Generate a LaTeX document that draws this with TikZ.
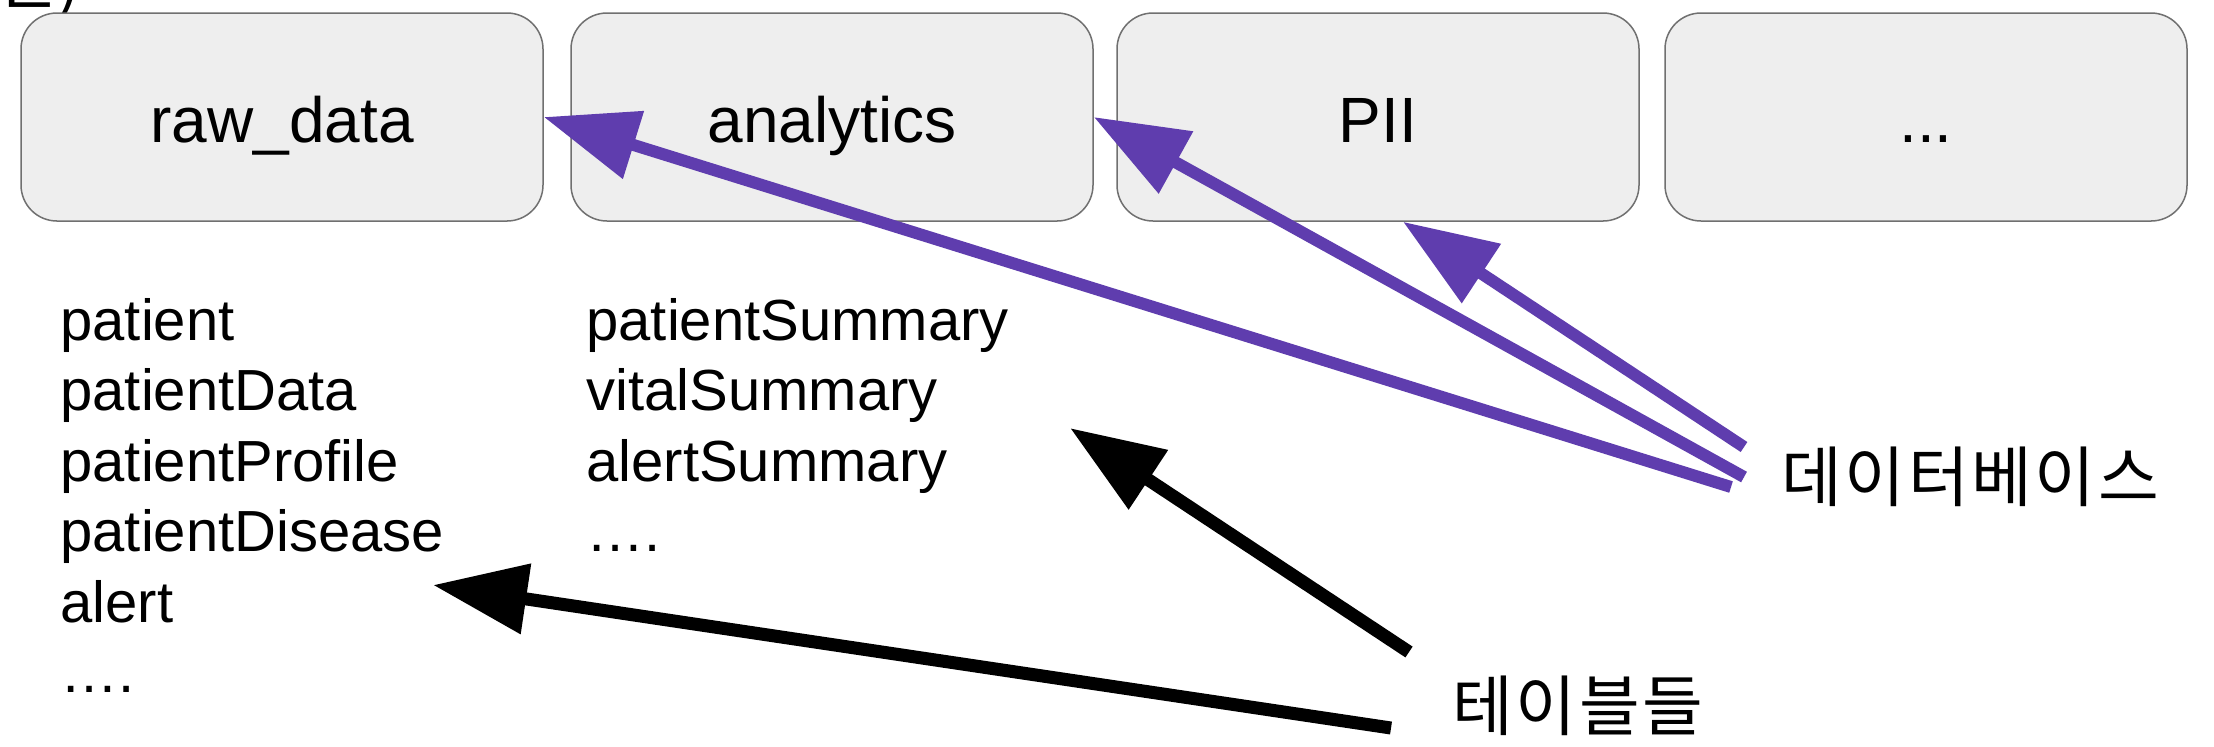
\documentclass[tikz,border=0pt]{standalone}
\usepackage{fontspec}
\setmainfont{Liberation Sans}
\newfontfamily\kr{Noto Sans CJK KR}
\newfontfamily\krsp[LetterSpace=4]{Noto Sans CJK KR}
\usetikzlibrary{arrows.meta,calc}
\definecolor{boxfill}{HTML}{EEEEEE}
\definecolor{boxline}{HTML}{707070}
\definecolor{pur}{HTML}{5F3DAE}
\newcommand{\fourdots}{….}
\begin{document}
\begin{tikzpicture}[x=0.5pt,y=-0.5pt,
  dbbox/.style={draw=boxline, line width=0.75pt, fill=boxfill, rounded corners=18pt,
    minimum width=261pt, minimum height=104pt, inner sep=0pt},
  boxtext/.style={font=\fontsize{32}{38}\selectfont, anchor=base, inner sep=0pt},
  listtext/.style={font=\fontsize{29}{35}\selectfont, anchor=base west, inner sep=0pt},
  purarrow/.style={draw=pur, fill=pur, line width=6pt, -{Triangle[length=47pt,width=34pt]}},
  blkarrow/.style={draw=black, fill=black, line width=6.5pt, -{Triangle[length=47pt,width=34pt]}},
  krlabel/.style={font=\krsp\fontsize{33}{40}\selectfont, anchor=west, inner sep=0pt}]

\useasboundingbox (0,0) rectangle (2214,746);
\fill[white] (0,0) rectangle (2214,746);

% cut-off heading at the top left
\node[font=\kr\fontsize{34}{40}\selectfont, anchor=base west, inner sep=0pt] (cut) at (-4,3) {단)};

% database boxes
\node[dbbox] (rd)   at (282,117)  {};
\node[dbbox] (an)   at (832,117)  {};
\node[dbbox] (pii)  at (1378,117) {};
\node[dbbox] (more) at (1926,117) {};
\node[boxtext] (rdt)   at (282,142)  {raw\_data};
\node[boxtext] (ant)   at (832,142)  {analytics};
\node[boxtext] (piit)  at (1378,142) {PII};
\node[boxtext] (moret) at (1926,142) {...};

% table lists
\foreach \t [count=\i] in {patient,patientData,patientProfile,patientDisease,alert,\fourdots}
  \node[listtext] (L\i) at (60,{340+70.5*(\i-1)}) {\t};
\foreach \t [count=\i] in {patientSummary,vitalSummary,alertSummary,\fourdots}
  \node[listtext] (R\i) at (586,{340+70.5*(\i-1)}) {\t};

% labels
\node[krlabel] (db) at (1781,477) {데이터베이스};
\node[krlabel] (tb) at (1452,706) {테이블들};

% arrow ends
\coordinate (p1s) at (1731,487);
\coordinate (p2s) at (1744,477);
\coordinate (p3s) at (1744,447);
\coordinate (p3e) at ($(pii.south)+(25,0)$);
\coordinate (b1s) at (1409,652);
\coordinate (b1e) at (1070,428);
\coordinate (b2s) at (1391,728);
\coordinate (b2e) at (433,585);

\draw[purarrow] (p1s) -- (rd.east);
\draw[purarrow] (p2s) -- (an.east);
\draw[purarrow] (p3s) -- (p3e);
\draw[blkarrow] (b1s) -- (b1e);
\draw[blkarrow] (b2s) -- (b2e);
\end{tikzpicture}
\end{document}
